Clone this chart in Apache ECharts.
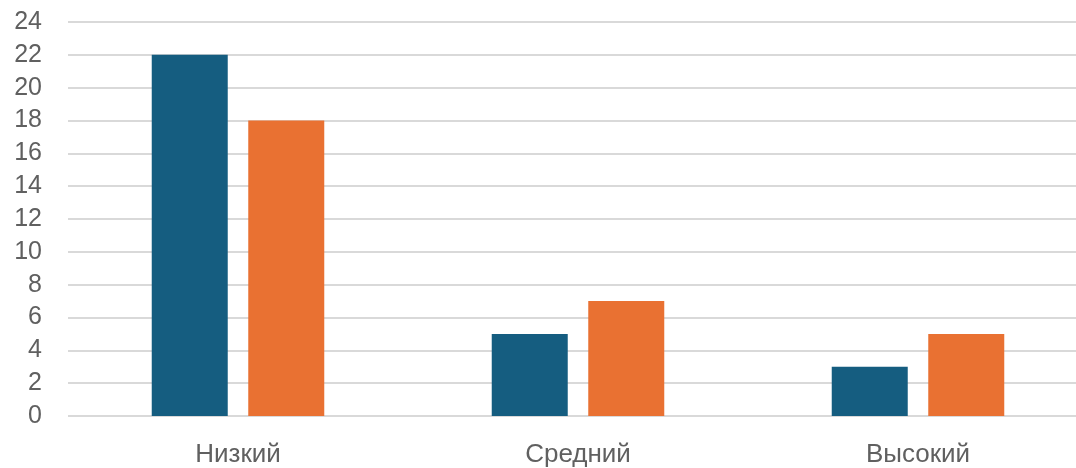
<!DOCTYPE html>
<html><head><meta charset="utf-8">
<script src="https://cdn.jsdelivr.net/npm/echarts@6/dist/echarts.min.js"></script>
<style>html,body{margin:0;padding:0;background:#fff;overflow:hidden;width:1076px;height:468px}#c{width:1088px;height:468px}</style>
</head><body><div id="c"></div>
<script>
const categories = ['Низкий', 'Средний', 'Высокий'];
const series1 = [22, 5, 3];
const series2 = [18, 7, 5];
const chart = echarts.init(document.getElementById('c'));
chart.setOption({
  animation: false,
  grid: {left: 68, right: 0, top: 22, bottom: 51},
  xAxis: {
    type: 'category', data: categories,
    axisLine: {show: false}, axisTick: {show: false},
    axisLabel: {color: '#606060', fontSize: 26, fontFamily: 'Liberation Sans, Arial, sans-serif', margin: 26}
  },
  yAxis: {
    type: 'value', min: 0, max: 24, interval: 2,
    axisLine: {show: false}, axisTick: {show: false},
    splitLine: {lineStyle: {color: '#d9d9d9', width: 2}},
    axisLabel: {color: '#606060', fontSize: 25, fontFamily: 'Liberation Sans, Arial, sans-serif', margin: 26}
  },
  series: [
    {type: 'bar', data: series1, barWidth: 76, barGap: '27%', itemStyle: {color: '#155d80'}},
    {type: 'bar', data: series2, barWidth: 76, itemStyle: {color: '#e97132'}}
  ]
});
</script></body></html>
